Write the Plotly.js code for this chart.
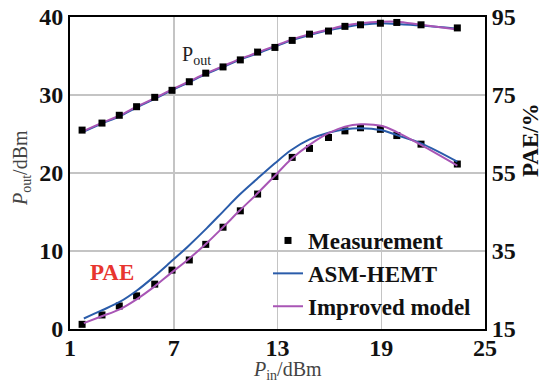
<!DOCTYPE html>
<html>
<head>
<meta charset="utf-8">
<script src="https://cdn.plot.ly/plotly-3.0.1.min.js"></script>
<style>html,body{margin:0;padding:0;background:#fff;}#chart{width:545px;height:385px;}</style>
</head>
<body>
<div id="chart"></div>
<script>
// Measurement data
const measPin = [1.7, 2.85, 3.85, 4.85, 5.9, 6.9, 7.9, 8.85, 9.85, 10.85, 11.85, 12.85, 13.85, 14.85, 15.95, 16.9, 17.8, 18.95, 19.9, 21.3, 23.4];
const measPout = [25.5, 26.4, 27.4, 28.5, 29.7, 30.6, 31.7, 32.8, 33.6, 34.5, 35.5, 36.1, 37.0, 37.8, 38.2, 38.8, 39.0, 39.2, 39.3, 39.0, 38.6];
const measPAE = [16.2, 18.6, 20.9, 23.5, 26.5, 30.1, 32.7, 36.7, 41.1, 45.3, 49.6, 54.1, 59.0, 61.3, 64.1, 65.8, 66.6, 66.2, 64.6, 62.4, 57.3];

// Model curves
const modelPin = [1.8, 2.8, 3.9, 4.85, 5.8, 6.8, 7.85, 8.9, 9.85, 10.8, 11.8, 12.85, 13.8, 14.85, 15.95, 16.9, 17.8, 19.0, 19.9, 21.3, 23.4];
const asmPout = [25.3, 26.3, 27.3, 28.4, 29.4, 30.5, 31.6, 32.7, 33.6, 34.5, 35.3, 36.2, 37.0, 37.7, 38.3, 38.7, 39.0, 39.2, 39.1, 38.9, 38.5];
const impPout = [25.4, 26.4, 27.4, 28.5, 29.5, 30.6, 31.7, 32.8, 33.7, 34.6, 35.4, 36.3, 37.1, 37.8, 38.4, 38.9, 39.2, 39.4, 39.4, 39.0, 38.4];
const asmPAE = [17.7, 19.7, 22.0, 24.8, 28.2, 32.1, 36.3, 40.8, 45.1, 49.4, 53.4, 57.5, 60.9, 63.6, 65.3, 66.2, 66.5, 66.0, 64.7, 62.6, 57.9];
const impPAE = [16.5, 18.2, 20.1, 22.6, 25.6, 29.2, 32.9, 37.0, 41.1, 45.3, 49.6, 54.3, 58.6, 62.2, 65.2, 66.9, 67.5, 67.1, 65.5, 62.2, 56.9];

const xTicks = [1, 7, 13, 19, 25];
const yTicks = [0, 10, 20, 30, 40];
const y2Ticks = [15, 35, 55, 75, 95];

const blue = '#2a5caa';
const purple = '#a855b5';
const serif = 'Liberation Serif, Times New Roman, serif';

const traces = [
  {x: modelPin, y: asmPout, mode: 'lines', line: {color: blue, width: 2, shape: 'spline'}, name: 'ASM-HEMT', legendgroup: 'asm', showlegend: false, yaxis: 'y'},
  {x: modelPin, y: impPout, mode: 'lines', line: {color: purple, width: 2, shape: 'spline'}, name: 'Improved model', legendgroup: 'imp', showlegend: false, yaxis: 'y'},
  {x: measPin, y: measPout, mode: 'markers', marker: {symbol: 'square', color: '#000', size: 7}, name: 'Measurement', legendgroup: 'meas', showlegend: false, yaxis: 'y'},
  {x: measPin, y: measPAE, mode: 'markers', marker: {symbol: 'square', color: '#000', size: 7}, name: 'Measurement', legendgroup: 'meas', showlegend: true, yaxis: 'y2'},
  {x: modelPin, y: asmPAE, mode: 'lines', line: {color: blue, width: 2, shape: 'spline'}, name: 'ASM-HEMT', legendgroup: 'asm', showlegend: true, yaxis: 'y2'},
  {x: modelPin, y: impPAE, mode: 'lines', line: {color: purple, width: 2, shape: 'spline'}, name: 'Improved model', legendgroup: 'imp', showlegend: true, yaxis: 'y2'}
];

const L = 70, T = 17, W = 415, H = 312;
function px(x) { return (x - L) / W; }
function py(y) { return (T + H - y) / H; }

function ann(x, y, text, font, angle) {
  return {xref: 'paper', yref: 'paper', x: px(x), y: py(y), xanchor: 'center', yanchor: 'middle',
          text: text, textangle: angle || 0, showarrow: false, font: font};
}

const tickFont = {family: serif, size: 24, weight: 'bold', color: '#111'};

const layout = {
  width: 545, height: 385,
  margin: {l: L, r: 545 - L - W, t: T, b: 385 - T - H},
  paper_bgcolor: '#fff', plot_bgcolor: '#fff',
  font: {family: serif, color: '#111'},
  showlegend: true,
  legend: {
    x: px(268), y: py(219), xanchor: 'left', yanchor: 'top',
    bgcolor: 'rgba(0,0,0,0)', borderwidth: 0,
    font: {family: serif, size: 23, weight: 'bold', color: '#111'},
    traceorder: 'normal', tracegroupgap: 0, itemwidth: 30
  },
  xaxis: {
    range: [1, 25], tickvals: xTicks, ticktext: xTicks.map(String),
    showgrid: true, gridcolor: '#c4c4c4', gridwidth: 1.5,
    showline: true, linecolor: '#000', linewidth: 2, mirror: true,
    ticks: '', zeroline: false, tickfont: tickFont, ticklabelstandoff: -4
  },
  yaxis: {
    range: [0, 40], tickvals: yTicks, ticktext: yTicks.map(String),
    showgrid: true, gridcolor: '#c4c4c4', gridwidth: 1.5,
    showline: true, linecolor: '#000', linewidth: 2, mirror: true,
    ticks: '', zeroline: false, tickfont: tickFont
  },
  yaxis2: {
    range: [15, 95], tickvals: y2Ticks, ticktext: y2Ticks.map(String),
    overlaying: 'y', side: 'right', showgrid: false,
    showline: true, linecolor: '#000', linewidth: 2,
    ticks: '', zeroline: false, tickfont: tickFont
  },
  annotations: [
    ann(22, 168, '<i>P</i><sub>out</sub>/dBm', {family: serif, size: 20, color: '#444'}, -90),
    ann(287, 370, '<i>P</i><sub>in</sub>/dBm', {family: serif, size: 20, color: '#444'}),
    ann(530, 140, '<b>PAE/%</b>', {family: serif, size: 23, color: '#111'}, -90),
    ann(112, 272, '<b>PAE</b>', {family: serif, size: 23, color: '#e8352f'}),
    ann(196, 55, 'P<sub>out</sub>', {family: serif, size: 20, color: '#222'})
  ]
};

Plotly.newPlot('chart', traces, layout, {displayModeBar: false, staticPlot: true});
</script>
</body>
</html>
